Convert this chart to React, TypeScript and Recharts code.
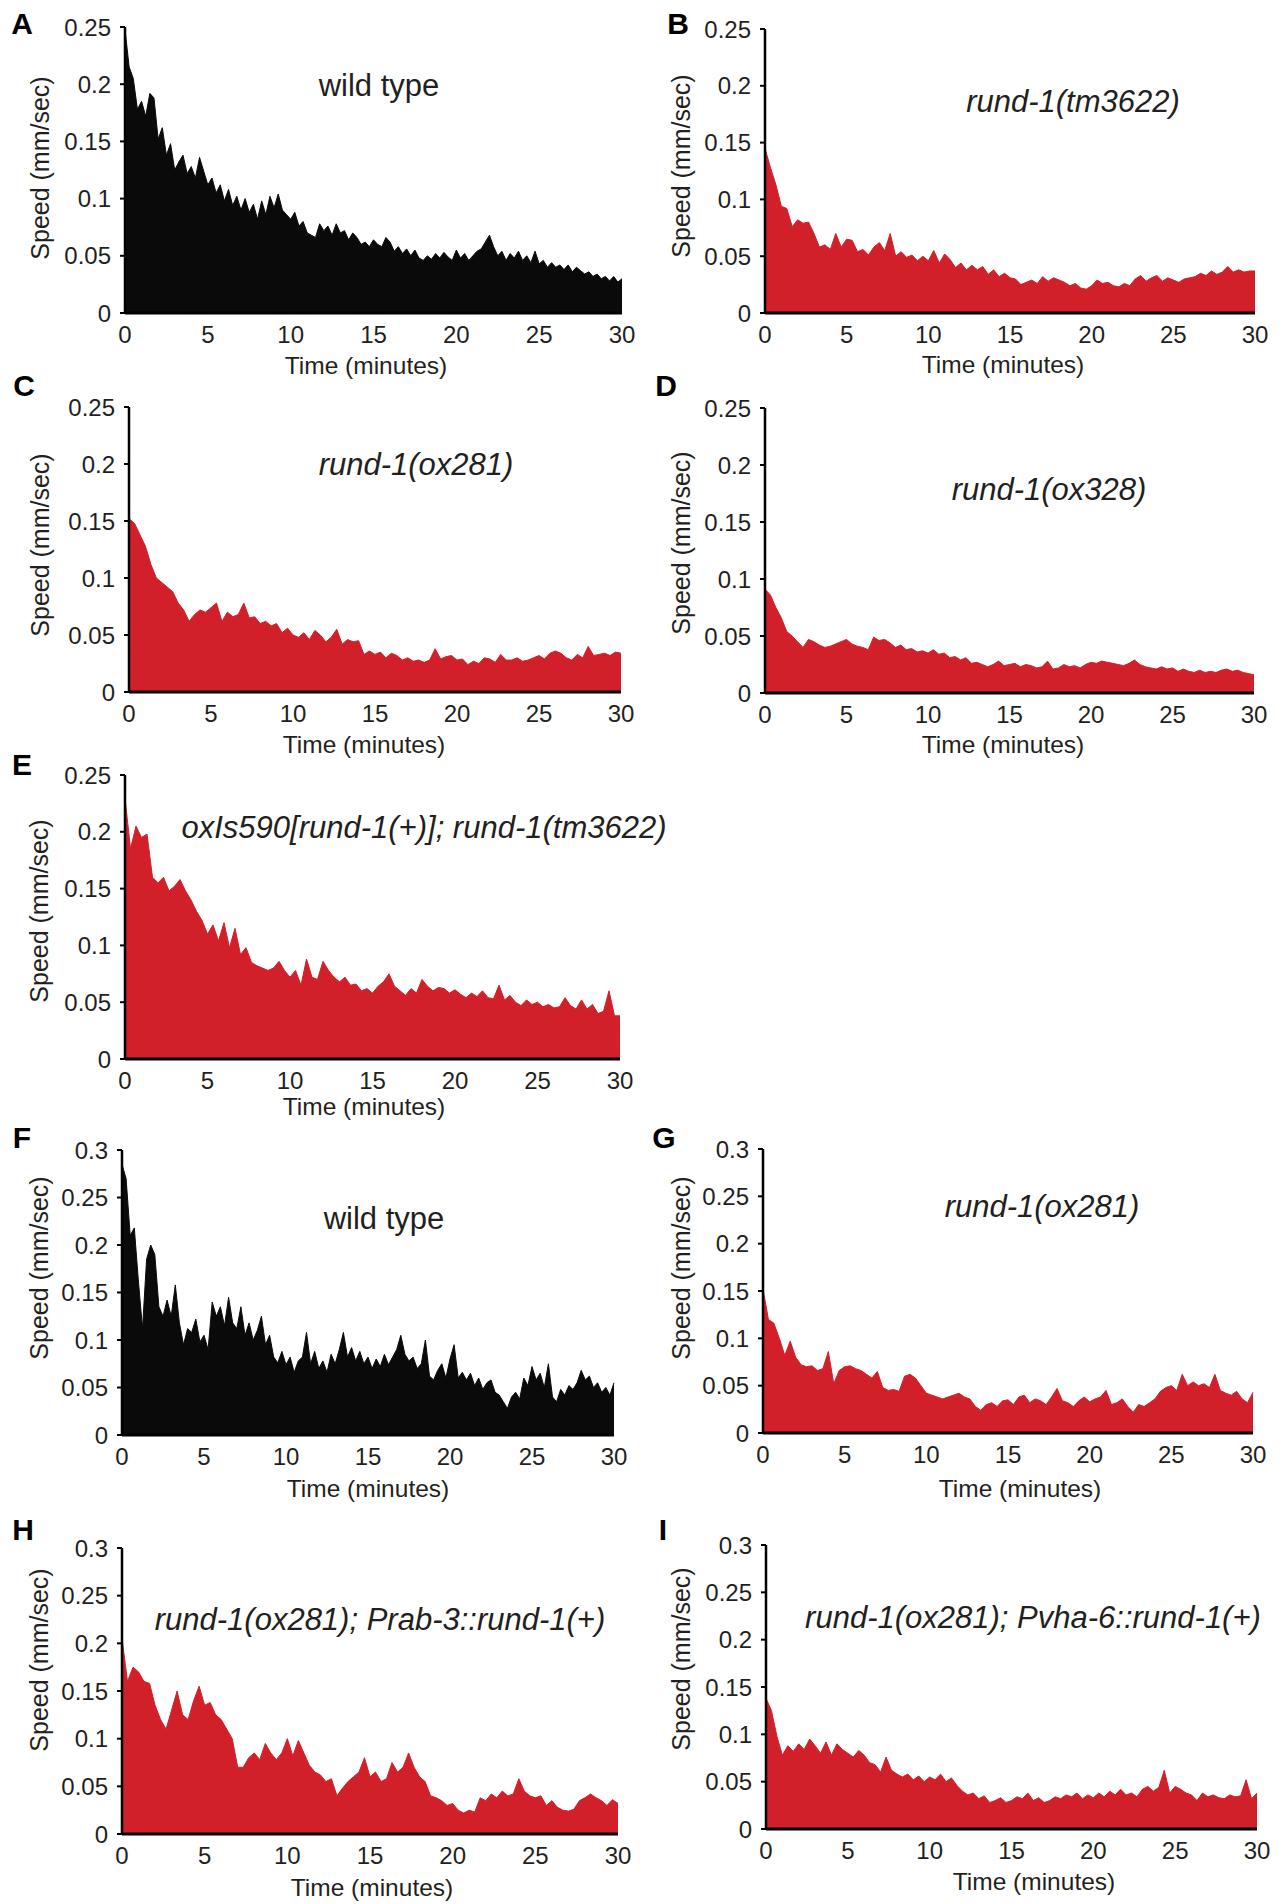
import { AreaChart, Area, XAxis, YAxis } from "recharts";

const X_TICKS = [0, 5, 10, 15, 20, 25, 30];
const Y_TICKS_25 = [0, 0.05, 0.1, 0.15, 0.2, 0.25];
const Y_TICKS_30 = [0, 0.05, 0.1, 0.15, 0.2, 0.25, 0.3];

// speed traces (mm/sec), samples evenly spaced over 0-30 min
const wildTypeA = [
  0.248, 0.215, 0.205, 0.178, 0.185, 0.172, 0.192, 0.188, 0.152, 0.162,
  0.138, 0.148, 0.125, 0.132, 0.138, 0.122, 0.128, 0.118, 0.136, 0.124,
  0.112, 0.118, 0.105, 0.112, 0.098, 0.108, 0.094, 0.102, 0.09, 0.1,
  0.088, 0.095, 0.082, 0.098, 0.086, 0.102, 0.092, 0.104, 0.09, 0.086,
  0.082, 0.088, 0.076, 0.08, 0.07, 0.068, 0.066, 0.078, 0.072, 0.076,
  0.068, 0.078, 0.07, 0.072, 0.064, 0.07, 0.066, 0.06, 0.062, 0.058,
  0.064, 0.06, 0.058, 0.066, 0.062, 0.054, 0.058, 0.052, 0.056, 0.05,
  0.055, 0.048, 0.046, 0.05, 0.047, 0.052, 0.048, 0.053, 0.049, 0.046,
  0.055, 0.048, 0.052, 0.046, 0.05, 0.054, 0.056, 0.062, 0.068, 0.058,
  0.05, 0.054, 0.046, 0.052, 0.048, 0.054, 0.046, 0.05, 0.044, 0.054,
  0.043, 0.046, 0.04, 0.044, 0.04, 0.042, 0.038, 0.042, 0.036, 0.04,
  0.037, 0.034, 0.036, 0.032, 0.034, 0.03, 0.032, 0.028, 0.032, 0.027,
  0.03,
];

const tm3622B = [
  0.145, 0.128, 0.113, 0.094, 0.092, 0.076, 0.082, 0.079, 0.08, 0.07,
  0.058, 0.06, 0.056, 0.07, 0.058, 0.065, 0.064, 0.054, 0.056, 0.051,
  0.058, 0.062, 0.055, 0.07, 0.05, 0.054, 0.049, 0.051, 0.046, 0.05,
  0.046, 0.055, 0.044, 0.052, 0.047, 0.04, 0.044, 0.038, 0.042, 0.038,
  0.041, 0.034, 0.038, 0.032, 0.035, 0.031, 0.03, 0.025, 0.027, 0.029,
  0.026, 0.032, 0.028, 0.031, 0.029, 0.027, 0.024, 0.026, 0.022, 0.021,
  0.024, 0.029, 0.026, 0.027, 0.024, 0.023, 0.026, 0.024, 0.03, 0.033,
  0.028, 0.031, 0.033, 0.028, 0.031, 0.029, 0.027, 0.03, 0.031, 0.032,
  0.035, 0.033, 0.037, 0.034, 0.036, 0.041, 0.036, 0.038, 0.036, 0.037,
  0.037,
];

const ox281C = [
  0.152, 0.148, 0.138, 0.128, 0.112, 0.1, 0.096, 0.092, 0.088, 0.078,
  0.072, 0.062, 0.068, 0.072, 0.07, 0.074, 0.078, 0.062, 0.07, 0.066,
  0.068, 0.078, 0.065, 0.066, 0.06, 0.062, 0.058, 0.06, 0.052, 0.056,
  0.05, 0.048, 0.052, 0.046, 0.054, 0.05, 0.044, 0.048, 0.055, 0.042,
  0.046, 0.044, 0.045, 0.033, 0.036, 0.033, 0.035, 0.03, 0.034, 0.032,
  0.028, 0.03, 0.027, 0.028, 0.026, 0.028, 0.038, 0.029, 0.031, 0.032,
  0.028, 0.029, 0.024, 0.027, 0.025, 0.03, 0.029, 0.026, 0.033, 0.028,
  0.028, 0.03, 0.027, 0.028, 0.03, 0.032, 0.029, 0.034, 0.036, 0.034,
  0.03, 0.028, 0.033, 0.03, 0.04, 0.032, 0.033, 0.034, 0.032, 0.035,
  0.034,
];

const ox328D = [
  0.091, 0.086, 0.075, 0.066, 0.054, 0.05, 0.045, 0.04, 0.047, 0.045,
  0.042, 0.04, 0.041, 0.043, 0.045, 0.047, 0.043, 0.041, 0.04, 0.038,
  0.049, 0.046, 0.047, 0.044, 0.04, 0.042, 0.038, 0.039, 0.036, 0.037,
  0.035, 0.038, 0.034, 0.035, 0.031, 0.032, 0.029, 0.031, 0.026, 0.027,
  0.025, 0.023, 0.025, 0.028, 0.024, 0.025, 0.026, 0.023, 0.025, 0.024,
  0.022, 0.023, 0.028, 0.021, 0.022, 0.025, 0.023, 0.024, 0.022, 0.025,
  0.027, 0.026, 0.028, 0.027, 0.026, 0.025, 0.024, 0.026, 0.029, 0.025,
  0.023, 0.022, 0.021, 0.023, 0.021, 0.022, 0.019, 0.021, 0.019, 0.018,
  0.02, 0.018, 0.019, 0.018, 0.02, 0.021, 0.019, 0.02, 0.018, 0.017,
  0.016,
];

const rescueE = [
  0.23, 0.185, 0.205, 0.195, 0.198, 0.16, 0.155, 0.16, 0.148, 0.152,
  0.158, 0.148, 0.14, 0.13, 0.122, 0.11, 0.118, 0.104, 0.12, 0.098,
  0.115, 0.092, 0.098, 0.085, 0.082, 0.08, 0.078, 0.08, 0.086, 0.078,
  0.072, 0.078, 0.065, 0.088, 0.072, 0.07, 0.086, 0.078, 0.072, 0.068,
  0.072, 0.065, 0.066, 0.06, 0.062, 0.058, 0.064, 0.068, 0.075, 0.064,
  0.06, 0.056, 0.062, 0.058, 0.07, 0.064, 0.06, 0.063, 0.062, 0.058,
  0.061, 0.057, 0.054, 0.058, 0.055, 0.06, 0.054, 0.053, 0.065, 0.052,
  0.056, 0.05, 0.047, 0.052, 0.048, 0.05, 0.046, 0.048, 0.045, 0.046,
  0.054, 0.047, 0.044, 0.052, 0.044, 0.048, 0.04, 0.042, 0.06, 0.038,
  0.038,
];

const wildTypeF = [
  0.285, 0.27, 0.21, 0.218, 0.162, 0.112, 0.185, 0.2, 0.19, 0.135,
  0.125, 0.142, 0.125, 0.158, 0.118, 0.095, 0.112, 0.108, 0.122, 0.098,
  0.105, 0.09, 0.14, 0.125, 0.135, 0.115, 0.145, 0.118, 0.112, 0.135,
  0.105, 0.118, 0.1, 0.11, 0.125, 0.095, 0.105, 0.082, 0.076, 0.088,
  0.074, 0.082, 0.066, 0.078, 0.082, 0.108, 0.075, 0.088, 0.07, 0.078,
  0.066, 0.085, 0.075, 0.09, 0.108, 0.082, 0.092, 0.078, 0.088, 0.075,
  0.082, 0.07, 0.08, 0.072, 0.085, 0.074, 0.082, 0.09, 0.105, 0.085,
  0.078, 0.082, 0.07, 0.075, 0.1, 0.062, 0.058, 0.068, 0.075, 0.06,
  0.08, 0.095, 0.06, 0.066, 0.058, 0.065, 0.052, 0.06, 0.048, 0.055,
  0.058, 0.045, 0.042, 0.035, 0.028, 0.04, 0.045, 0.038, 0.06, 0.052,
  0.072, 0.058, 0.065, 0.05, 0.075, 0.04, 0.035, 0.048, 0.042, 0.052,
  0.048, 0.055, 0.068, 0.058, 0.062, 0.05, 0.055, 0.045, 0.05, 0.042,
  0.055,
];

const ox281G = [
  0.152, 0.12, 0.116, 0.1, 0.082, 0.097, 0.08, 0.072, 0.07, 0.071,
  0.066, 0.068, 0.086, 0.052, 0.066, 0.07, 0.071, 0.068, 0.066, 0.062,
  0.058, 0.065, 0.048, 0.045, 0.046, 0.044, 0.06, 0.062, 0.058, 0.05,
  0.042, 0.04, 0.038, 0.036, 0.038, 0.04, 0.042, 0.038, 0.036, 0.028,
  0.024, 0.03, 0.032, 0.028, 0.034, 0.035, 0.03, 0.038, 0.04, 0.032,
  0.036, 0.034, 0.03, 0.038, 0.047, 0.034, 0.032, 0.028, 0.034, 0.038,
  0.033, 0.036, 0.038, 0.045, 0.03, 0.032, 0.036, 0.028, 0.022, 0.03,
  0.028, 0.032, 0.036, 0.044, 0.048, 0.05, 0.045, 0.062, 0.05, 0.054,
  0.05, 0.052, 0.048, 0.062, 0.045, 0.042, 0.04, 0.044, 0.036, 0.032,
  0.043,
];

const prab3H = [
  0.205, 0.16, 0.175, 0.17, 0.16, 0.158, 0.135, 0.12, 0.11, 0.13,
  0.15, 0.125, 0.12, 0.14, 0.155, 0.135, 0.138, 0.125, 0.12, 0.11,
  0.1, 0.07, 0.07, 0.08, 0.085, 0.078, 0.095, 0.085, 0.078, 0.085,
  0.1, 0.082, 0.098, 0.085, 0.072, 0.065, 0.062, 0.055, 0.058, 0.04,
  0.048, 0.055, 0.06, 0.065, 0.08, 0.06, 0.065, 0.055, 0.058, 0.075,
  0.065, 0.07, 0.085, 0.07, 0.06, 0.055, 0.04, 0.038, 0.035, 0.03,
  0.032, 0.025, 0.022, 0.025, 0.023, 0.038, 0.035, 0.042, 0.038, 0.045,
  0.04, 0.042, 0.058, 0.045, 0.04, 0.038, 0.04, 0.03, 0.035, 0.028,
  0.025, 0.024, 0.026, 0.035, 0.038, 0.042, 0.038, 0.035, 0.03, 0.036,
  0.032,
];

const pvha6I = [
  0.138, 0.125, 0.098, 0.078, 0.088, 0.082, 0.09, 0.084, 0.095, 0.088,
  0.08, 0.092, 0.078, 0.09, 0.084, 0.08, 0.076, 0.083, 0.078, 0.07,
  0.068, 0.06, 0.076, 0.062, 0.058, 0.055, 0.058, 0.052, 0.056, 0.05,
  0.055, 0.052, 0.058, 0.05, 0.054, 0.046, 0.04, 0.036, 0.038, 0.032,
  0.035, 0.028, 0.03, 0.033, 0.028, 0.03, 0.034, 0.032, 0.038, 0.03,
  0.033, 0.028, 0.03, 0.034, 0.032, 0.036, 0.034, 0.038, 0.032, 0.036,
  0.033, 0.038, 0.034, 0.04, 0.036, 0.042, 0.036, 0.038, 0.034, 0.042,
  0.045, 0.04, 0.044, 0.062, 0.038, 0.045, 0.042, 0.038, 0.036, 0.03,
  0.038, 0.034, 0.036, 0.033, 0.032, 0.036, 0.034, 0.035, 0.052, 0.032,
  0.038,
];

const RED = "#d2202a";
const BLACK = "#0a0a0a";
const TEXT = "#231f20";
const FONT = '"Liberation Sans", Arial, Helvetica, sans-serif';

function toRows(values: number[]) {
  const step = 30 / (values.length - 1);
  return values.map((v, i) => ({ t: i * step, speed: v }));
}

type PanelDef = {
  letter: string;
  letterAt: [number, number];
  title: string;
  italic: boolean;
  titleAt: [number, number];
  yLabelAt: [number, number];
  xLabelAt: [number, number];
  plot: [number, number, number, number]; // left, top, right, bottom
  values: number[];
  color: string;
  yTicks: number[];
};

const PANELS: PanelDef[] = [
  { letter: "A", letterAt: [22, 24], title: "wild type", italic: false, titleAt: [379, 85], yLabelAt: [40, 168], xLabelAt: [366, 366], plot: [125, 27, 622, 313], values: wildTypeA, color: BLACK, yTicks: Y_TICKS_25 },
  { letter: "B", letterAt: [678, 24], title: "rund-1(tm3622)", italic: true, titleAt: [1073, 101], yLabelAt: [681, 166], xLabelAt: [1003, 365], plot: [765, 29, 1255, 313], values: tm3622B, color: RED, yTicks: Y_TICKS_25 },
  { letter: "C", letterAt: [24, 386], title: "rund-1(ox281)", italic: true, titleAt: [416, 464], yLabelAt: [40, 545], xLabelAt: [364, 745], plot: [129, 407, 621, 692], values: ox281C, color: RED, yTicks: Y_TICKS_25 },
  { letter: "D", letterAt: [666, 386], title: "rund-1(ox328)", italic: true, titleAt: [1049, 489], yLabelAt: [681, 543], xLabelAt: [1003, 745], plot: [765, 408, 1254, 693], values: ox328D, color: RED, yTicks: Y_TICKS_25 },
  { letter: "E", letterAt: [22, 765], title: "oxIs590[rund-1(+)]; rund-1(tm3622)", italic: true, titleAt: [424, 827], yLabelAt: [39, 911], xLabelAt: [364, 1107], plot: [125, 775, 620, 1059], values: rescueE, color: RED, yTicks: Y_TICKS_25 },
  { letter: "F", letterAt: [22, 1138], title: "wild type", italic: false, titleAt: [384, 1218], yLabelAt: [39, 1268], xLabelAt: [368, 1489], plot: [122, 1150, 614, 1435], values: wildTypeF, color: BLACK, yTicks: Y_TICKS_30 },
  { letter: "G", letterAt: [664, 1138], title: "rund-1(ox281)", italic: true, titleAt: [1042, 1206], yLabelAt: [681, 1268], xLabelAt: [1020, 1489], plot: [763, 1149, 1253, 1433], values: ox281G, color: RED, yTicks: Y_TICKS_30 },
  { letter: "H", letterAt: [23, 1530], title: "rund-1(ox281); Prab-3::rund-1(+)", italic: true, titleAt: [380, 1619], yLabelAt: [39, 1660], xLabelAt: [372, 1888], plot: [122, 1548, 618, 1834], values: prab3H, color: RED, yTicks: Y_TICKS_30 },
  { letter: "I", letterAt: [663, 1530], title: "rund-1(ox281); Pvha-6::rund-1(+)", italic: true, titleAt: [1033, 1617], yLabelAt: [681, 1659], xLabelAt: [1034, 1882], plot: [766, 1545, 1257, 1829], values: pvha6I, color: RED, yTicks: Y_TICKS_30 },
];

function Label({ at, children, style }: { at: [number, number]; children: string; style?: any }) {
  return (
    <div
      style={{
        position: "absolute",
        left: at[0],
        top: at[1],
        transform: "translate(-50%, -50%)",
        whiteSpace: "nowrap",
        lineHeight: 1,
        color: TEXT,
        ...style,
      }}
    >
      {children}
    </div>
  );
}

const ML = 110;
const MT = 30;
const MR = 30;
const MB = 60;

function Panel({ p }: { p: PanelDef }) {
  const [L, T, R, B] = p.plot;
  const yMax = p.yTicks[p.yTicks.length - 1];
  const tickStyle = { fontSize: 24, fill: TEXT, fontFamily: FONT };
  return (
    <>
      <div style={{ position: "absolute", left: L - ML, top: T - MT }}>
        <AreaChart
          width={R - L + ML + MR}
          height={B - T + MT + MB}
          data={toRows(p.values)}
          margin={{ top: MT, right: MR, bottom: 0, left: 0 }}
        >
          <YAxis
            type="number"
            domain={[0, yMax]}
            ticks={p.yTicks}
            interval={0}
            width={ML}
            tickSize={5}
            tickMargin={9}
            axisLine={{ stroke: "#000", strokeWidth: 2.5 }}
            tickLine={{ stroke: "#000", strokeWidth: 2 }}
            tick={tickStyle}
          />
          <Area
            type="linear"
            dataKey="speed"
            stroke={p.color}
            strokeWidth={1}
            fill={p.color}
            fillOpacity={1}
            dot={false}
            activeDot={false}
            isAnimationActive={false}
          />
          <XAxis
            type="number"
            dataKey="t"
            domain={[0, 30]}
            ticks={X_TICKS}
            interval={0}
            height={MB}
            tickLine={false}
            tickSize={6}
            tickMargin={7}
            axisLine={{ stroke: "#000", strokeWidth: 3 }}
            tick={tickStyle}
          />
        </AreaChart>
      </div>
      <Label at={p.letterAt} style={{ fontSize: 30, fontWeight: "bold", color: "#000" }}>
        {p.letter}
      </Label>
      <Label at={p.titleAt} style={{ fontSize: 31, fontStyle: p.italic ? "italic" : "normal" }}>
        {p.title}
      </Label>
      <Label at={p.yLabelAt} style={{ fontSize: 25, transform: "translate(-50%, -50%) rotate(-90deg)" }}>
        Speed (mm/sec)
      </Label>
      <Label at={p.xLabelAt} style={{ fontSize: 24.5 }}>
        Time (minutes)
      </Label>
    </>
  );
}

export default function App() {
  return (
    <div
      style={{
        position: "absolute",
        left: 0,
        top: 0,
        width: 1287,
        height: 1904,
        background: "#fff",
        fontFamily: FONT,
        overflow: "hidden",
      }}
    >
      {PANELS.map((p) => (
        <Panel key={p.letter} p={p} />
      ))}
    </div>
  );
}
